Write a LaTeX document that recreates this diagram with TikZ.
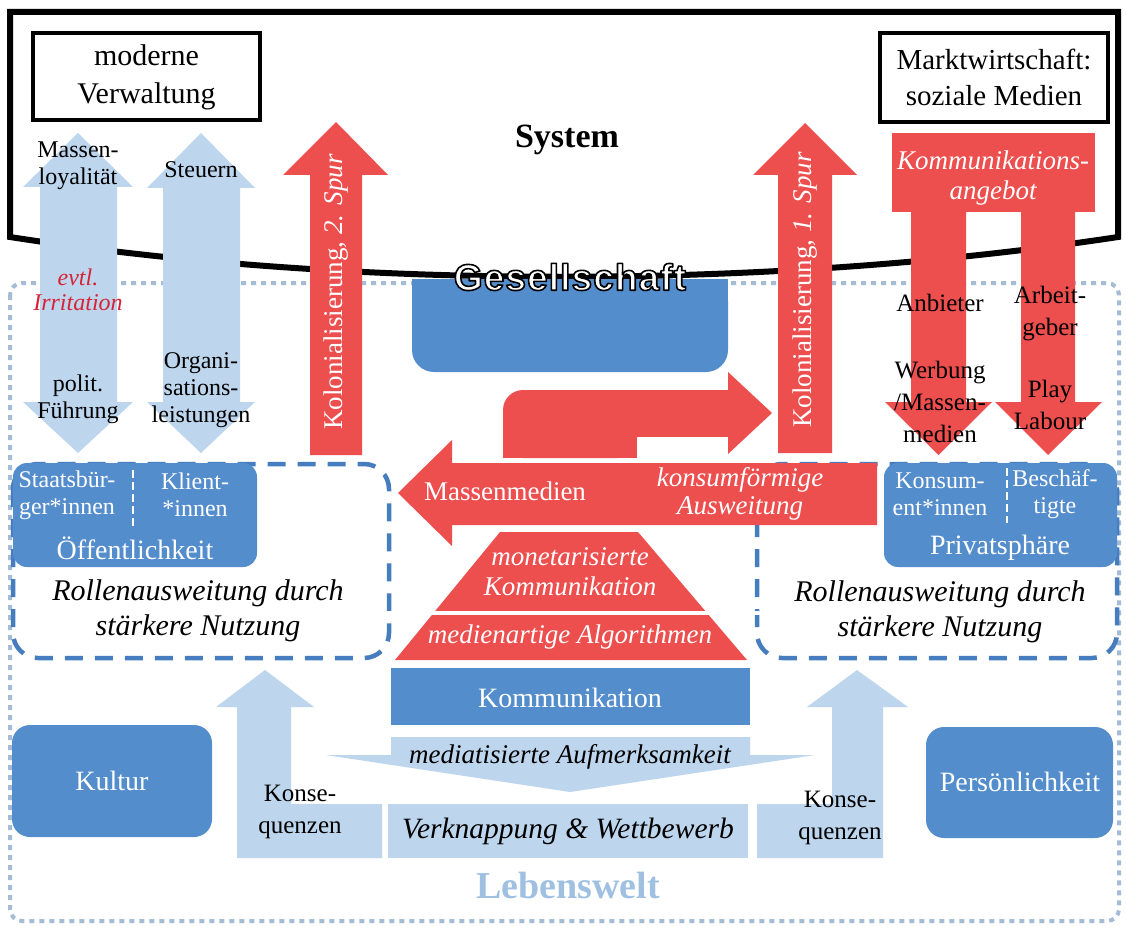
\documentclass[tikz,border=0pt]{standalone}
\usepackage{fontspec}
\setmainfont{Liberation Serif}
\newfontfamily\gesfont[LetterSpace=3]{Liberation Sans}
\definecolor{mblue}{RGB}{84,141,204}
\definecolor{lblue}{RGB}{189,214,238}
\definecolor{rred}{RGB}{237,78,78}
\definecolor{dblue}{RGB}{70,125,190}
\definecolor{dotc}{RGB}{165,188,214}
\definecolor{lwtext}{RGB}{160,192,225}
\definecolor{irr}{RGB}{215,35,55}
\begin{document}
\begin{tikzpicture}[x=1pt,y=-1pt,
  every node/.style={inner sep=0pt, align=center},
  sl/.style={font=\fontsize{24}{27}\selectfont},
  rl/.style={font=\fontsize{25}{32}\selectfont},
  ml/.style={font=\fontsize{27}{30}\selectfont},
  wl/.style={text=white},
  itl/.style={font=\fontsize{27}{30}\selectfont\itshape},
  rolle/.style={font=\fontsize{30}{35}\selectfont\itshape},
  titlebox/.style={draw, line width=4, font=\fontsize{30}{38}\selectfont},
  dbox/.style={dblue, line width=4.5, dash pattern=on 18 off 12, rounded corners=25},
  wdiv/.style={white, line width=2.5, dash pattern=on 8 off 4},
  gesf/.style={font=\gesfont\bfseries\fontsize{37}{40}\selectfont}
]
\useasboundingbox (0,0) rectangle (1126,928);
\fill[white] (0,0) rectangle (1126,928);

% Lebenswelt frame
\draw[dotc, line width=4, dash pattern=on 5 off 5, rounded corners=12] (10,283) rectangle (1119,921);

% System frame
\draw[line width=6, line join=miter] (10,12) -- (1118,12) -- (1118,237) .. controls (770,290) and (350,290) .. (10,237) -- cycle;

\node[titlebox, minimum width=227, minimum height=87] (mv) at (146.5,77) {moderne\\Verwaltung};
\node[titlebox, minimum width=228, minimum height=89, font=\fontsize{29}{36}\selectfont] (mw) at (994,77.5) {Marktwirtschaft:\\soziale Medien};
\node[font=\fontsize{34}{38}\selectfont\bfseries] (sys) at (567,140) {System};

% left double arrows
\fill[lblue] (78,133) -- (133,187) -- (117,187) -- (117,402) -- (133,402) -- (78,453) -- (23,402) -- (40,402) -- (40,187) -- (23,187) -- cycle;
\fill[lblue] (201,133) -- (255,188) -- (240,188) -- (240,402) -- (255,402) -- (201,453) -- (147,402) -- (163,402) -- (163,188) -- (147,188) -- cycle;
\node[sl] (ml1) at (78,166) {Massen-\\loyalität};
\node[sl] (st) at (201,170) {Steuern};
\node[sl, text=irr, font=\fontsize{24}{25}\selectfont\itshape] (irr) at (78,290) {evtl.\\Irritation};
\node[sl] (pf) at (78,399) {polit.\\Führung};
\node[sl] (ol) at (201,390) {Organi-\\sations-\\leistungen};

% red up arrows
\fill[rred] (336,122) -- (388,175) -- (362,175) -- (362,455) -- (310,455) -- (310,175) -- (283,175) -- cycle;
\node[ml, wl, rotate=90] (k2) at (336,292) {Kolonialisierung, \textit{2. Spur}};
\fill[rred] (805,123) -- (857,175) -- (832,175) -- (832,453) -- (778,453) -- (778,175) -- (753,175) -- cycle;
\node[ml, wl, rotate=90] (k1) at (805,290) {Kolonialisierung, \textit{1. Spur}};

% fork
\fill[rred] (892,133) rectangle (1095,212);
\fill[rred] (911,205) -- (966,205) -- (966,402) -- (992,402) -- (938.5,455) -- (885,402) -- (911,402) -- cycle;
\fill[rred] (1021,205) -- (1075,205) -- (1075,402) -- (1102,402) -- (1048,455) -- (995,402) -- (1021,402) -- cycle;
\node[itl, wl] (ka) at (993,178) {Kommunikations-\\angebot};
\node[rl] (anb) at (940,303) {Anbieter};
\node[rl] (arb) at (1050,314) {Arbeit-\\geber};
\node[rl] (wer) at (940,402) {Werbung\\/Massen-\\medien};
\node[rl] (pl) at (1050,405) {Play\\Labour};

% Gesellschaft box
\fill[mblue, rounded corners=22] (412,279) rectangle (728,372);
\fill[mblue] (412,279) rectangle (728,320);
\node[gesf] (ges) at (570,277) {\color{white}\special{pdf:literal direct 0 G 2 Tr 1.6 w 1 j}Gesellschaft\special{pdf:literal direct 0 Tr}};

% dashed role boxes
\draw[dbox] (13,464) rectangle (389,658);
\draw[dbox] (757,464) rectangle (1117,658);

% bent arrow
\fill[rred, rounded corners=20] (503,390) rectangle (637,458);
\fill[rred] (503,425) rectangle (637,458);
\fill[rred] (560,390) rectangle (729,437);
\fill[rred] (728,372) -- (772,413) -- (728,454) -- cycle;

% big left arrow
\fill[rred] (398,493) -- (452,440) -- (452,463) -- (877,463) -- (877,525) -- (452,525) -- (452,546) -- cycle;
\node[ml, wl] (mm) at (505,491) {Massenmedien};
\node[itl, wl, font=\fontsize{27}{28}\selectfont\itshape] (kfa) at (740,494) {konsumförmige\\Ausweitung};

% pyramid
\fill[rred] (500,532) -- (638,532) -- (747,660) -- (395,660) -- cycle;
\draw[white, line width=4] (380,613) -- (760,613);
\node[itl, wl] (mk) at (570,572) {monetarisierte\\Kommunikation};
\node[itl, wl] (ma) at (570,637) {medienartige Algorithmen};

% Kommunikation
\fill[mblue] (391,668) rectangle (750,725);
\node[ml, wl, font=\fontsize{28}{30}\selectfont] (kom) at (570,698) {Kommunikation};

% mediatisierte Aufmerksamkeit
\fill[lblue] (391,737) -- (750,737) -- (750,755) -- (815,755) -- (570,792) -- (326,755) -- (391,755) -- cycle;
\node[itl, font=\fontsize{27}{28}\selectfont\itshape] (mau) at (570,757) {mediatisierte Aufmerksamkeit};

% Verknappung
\fill[lblue] (388,804) rectangle (748,858);
\node[itl, font=\fontsize{29.5}{30}\selectfont\itshape] (vw) at (568,831) {Verknappung \& Wettbewerb};

% Konsequenzen arrows
\fill[lblue] (265,670) -- (314,707) -- (291,707) -- (291,804) -- (382,804) -- (382,858) -- (237,858) -- (237,707) -- (216,707) -- cycle;
\fill[lblue] (857,670) -- (908,707) -- (883,707) -- (883,858) -- (757,858) -- (757,804) -- (832,804) -- (832,707) -- (807,707) -- cycle;
\node[rl] (kq1) at (300,812) {Konse-\\quenzen};
\node[rl] (kq2) at (840,818) {Konse-\\quenzen};

% Kultur / Persoenlichkeit
\fill[mblue, rounded corners=18] (12,725) rectangle (212,837);
\node[ml, wl, font=\fontsize{28}{30}\selectfont] (kul) at (112,781) {Kultur};
\fill[mblue, rounded corners=18] (926,727) rectangle (1113,838);
\node[ml, wl, font=\fontsize{28}{30}\selectfont] (per) at (1020,782) {Persönlichkeit};

% Oeffentlichkeit
\fill[mblue, rounded corners=14] (13,463) rectangle (257,567);
\draw[wdiv] (133,470) -- (133,527);
\node[sl, wl] (sb) at (67,495) {Staatsbür-\\ger*innen};
\node[sl, wl] (kl) at (195,495) {Klient-\\*innen};
\node[ml, wl, font=\fontsize{28}{30}\selectfont] (oe) at (135,548) {Öffentlichkeit};
\node[rolle] (r1) at (198,611) {Rollenausweitung durch\\stärkere Nutzung};

% Privatsphaere
\fill[mblue, rounded corners=14] (884,463) rectangle (1117,567);
\draw[wdiv] (1007,468) -- (1007,523);
\node[sl, wl] (ko) at (940,494) {Konsum-\\ent*innen};
\node[sl, wl] (be) at (1055,494) {Beschäf-\\tigte};
\node[ml, wl, font=\fontsize{28}{30}\selectfont] (pr) at (1000,548) {Privatsphäre};
\node[rolle] (r2) at (940,612) {Rollenausweitung durch\\stärkere Nutzung};

\node[font=\fontsize{38}{40}\selectfont\bfseries, text=lwtext] (lw) at (568,885) {Lebenswelt};
\end{tikzpicture}
\end{document}
